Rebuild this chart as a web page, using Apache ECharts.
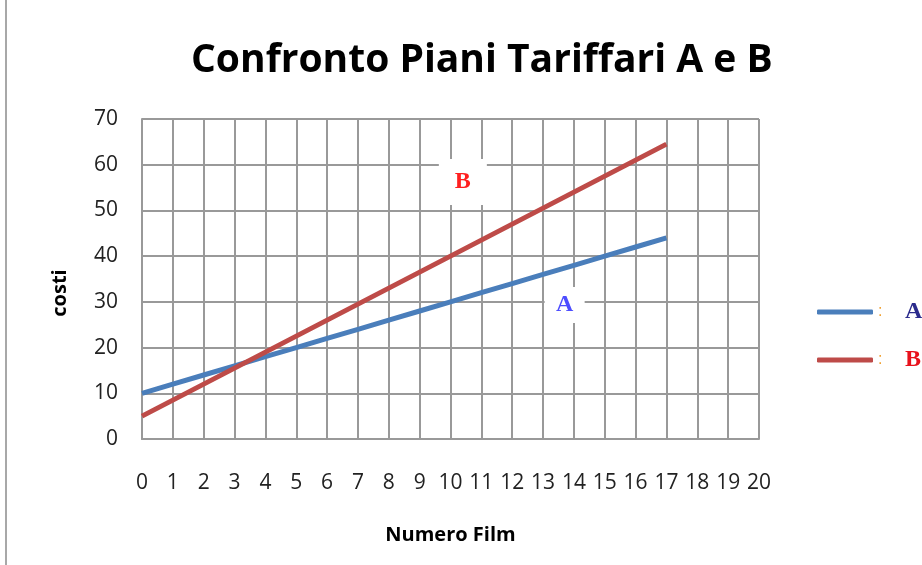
<!DOCTYPE html>
<html>
<head>
<meta charset="utf-8">
<script src="https://cdn.jsdelivr.net/npm/echarts@6/dist/echarts.min.js"></script>
<style>
html, body { margin: 0; padding: 0; background: #fff; }
#chart { width: 922px; height: 565px; }
</style>
</head>
<body>
<div id="chart"></div>
<script>
// dati
var filmTicks = [0, 1, 2, 3, 4, 5, 6, 7, 8, 9, 10, 11, 12, 13, 14, 15, 16, 17];
var costiA = [10, 12, 14, 16, 18, 20, 22, 24, 26, 28, 30, 32, 34, 36, 38, 40, 42, 44];
var costiB = [5, 8.5, 12, 15.5, 19, 22.5, 26, 29.5, 33, 36.5, 40, 43.5, 47, 50.5, 54, 57.5, 61, 64.5];
var labelA = [13.7, 29.3];
var labelB = [10.4, 56.2];

function pairs(xs, ys) {
  var out = [];
  for (var i = 0; i < xs.length; i++) out.push([xs[i], ys[i]]);
  return out;
}

var gridColor = '#999';
var txt = '#222';

var myChart = echarts.init(document.getElementById('chart'));
myChart.setOption({
  animation: false,
  title: {
    text: 'Confronto Piani Tariffari A e B',
    left: 186,
    top: 36,
    textStyle: { fontFamily: 'Open Sans', fontWeight: 'bold', fontSize: 39, color: '#000' }
  },
  graphic: [{
    type: 'line',
    shape: { x1: 6, y1: 0, x2: 6, y2: 565 },
    style: { stroke: '#a8a8a8', lineWidth: 2 }
  }],
  legend: {
    orient: 'vertical',
    left: 812,
    top: 295,
    itemWidth: 56,
    itemHeight: 5,
    itemGap: 24,
    icon: 'roundRect',
    formatter: function (name) { return '{c|:}{n|' + name + '}'; },
    data: [
      { name: 'A', textStyle: { rich: { n: { color: '#2b2b8c' } } } },
      { name: 'B', textStyle: { rich: { n: { color: '#e8121c' } } } }
    ],
    textStyle: {
      rich: {
        c: { color: '#f0a030', fontSize: 16, width: 27, lineHeight: 24 },
        n: { fontFamily: 'Liberation Serif', fontWeight: 'bold', fontSize: 24, lineHeight: 24 }
      }
    }
  },
  grid: { left: 142, right: 163, top: 119, bottom: 126 },
  xAxis: {
    type: 'value',
    min: 0,
    max: 20,
    interval: 1,
    name: 'Numero Film',
    nameLocation: 'middle',
    nameGap: 86,
    nameTextStyle: { fontFamily: 'Open Sans', fontWeight: 'bold', fontSize: 20, color: '#000' },
    axisLine: { show: true, lineStyle: { color: gridColor, width: 2 } },
    axisTick: { show: false },
    axisLabel: { margin: 34, fontFamily: 'Open Sans', fontSize: 21, color: txt },
    splitLine: { show: true, lineStyle: { color: gridColor, width: 2 } }
  },
  yAxis: {
    type: 'value',
    min: 0,
    max: 70,
    interval: 10,
    name: 'costi',
    nameLocation: 'middle',
    nameRotate: 90,
    nameGap: 72,
    nameTextStyle: {
      fontFamily: 'Open Sans', fontWeight: 'bold', fontSize: 20, color: '#000',
      padding: [0, 28, 0, 0]
    },
    axisLine: { show: true, lineStyle: { color: gridColor, width: 2 } },
    axisTick: { show: false },
    axisLabel: { margin: 24, fontFamily: 'Open Sans', fontSize: 21, color: txt },
    splitLine: { show: true, lineStyle: { color: gridColor, width: 2 } }
  },
  series: [
    {
      name: 'A',
      type: 'line',
      data: pairs(filmTicks, costiA),
      symbol: 'none',
      lineStyle: { color: '#4a7ebb', width: 5 },
      itemStyle: { color: '#4a7ebb' },
      markPoint: {
        symbol: 'rect',
        symbolSize: [40, 36],
        itemStyle: { color: '#fff' },
        label: {
          show: true, formatter: 'A', color: '#4d4dff',
          fontFamily: 'Liberation Serif', fontWeight: 'bold', fontSize: 24
        },
        data: [{ coord: labelA }]
      }
    },
    {
      name: 'B',
      type: 'line',
      data: pairs(filmTicks, costiB),
      symbol: 'none',
      lineStyle: { color: '#be4b48', width: 5 },
      itemStyle: { color: '#be4b48' },
      markPoint: {
        symbol: 'rect',
        symbolSize: [48, 46],
        itemStyle: { color: '#fff' },
        label: {
          show: true, formatter: 'B', color: '#ff2020',
          fontFamily: 'Liberation Serif', fontWeight: 'bold', fontSize: 24
        },
        data: [{ coord: labelB }]
      }
    }
  ]
});
window.addEventListener('resize', function () { myChart.resize(); });
</script>
</body>
</html>
